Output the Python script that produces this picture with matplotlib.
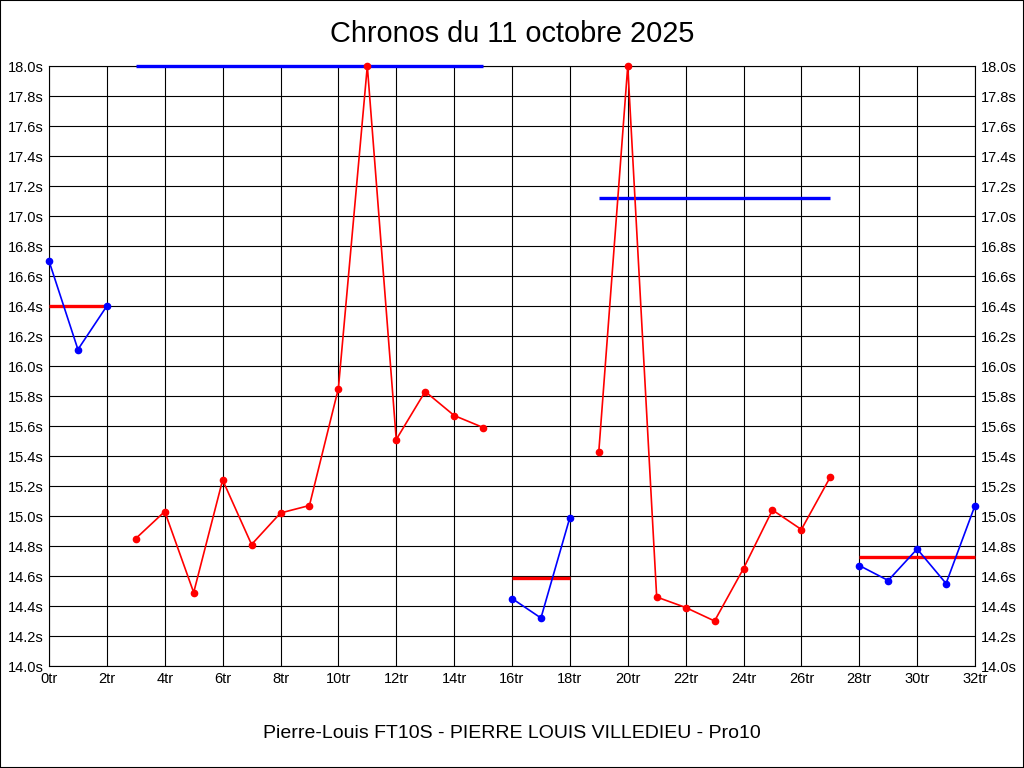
import matplotlib
matplotlib.use('Agg')
import matplotlib.pyplot as plt
from matplotlib.patches import Rectangle

plt.rcParams['font.family'] = ['Liberation Sans', 'DejaVu Sans']

# laps grouped by run, alternating colours
laps_a = [0, 1, 2]
times_a = [16.70, 16.11, 16.40]
laps_b = [3, 4, 5, 6, 7, 8, 9, 10, 11, 12, 13, 14, 15]
times_b = [14.85, 15.03, 14.49, 15.24, 14.81, 15.02, 15.07, 15.85, 18.0, 15.51, 15.83, 15.67, 15.59]
laps_c = [16, 17, 18]
times_c = [14.45, 14.32, 14.99]
laps_d = [19, 20, 21, 22, 23, 24, 25, 26, 27]
times_d = [15.43, 18.0, 14.46, 14.39, 14.30, 14.65, 15.04, 14.91, 15.26]
laps_e = [28, 29, 30, 31, 32]
times_e = [14.67, 14.57, 14.78, 14.55, 15.07]

# mean of each run (clipped at top of scale)
means = [16.40, 18.0, 14.59, 17.12, 14.73]

runs = [(laps_a, times_a, 'blue'), (laps_b, times_b, 'red'), (laps_c, times_c, 'blue'),
        (laps_d, times_d, 'red'), (laps_e, times_e, 'blue')]

fig = plt.figure(figsize=(10.24, 7.68), dpi=100)
ax = fig.add_axes([49 / 1024, 1 - 666 / 768, 926 / 1024, 600 / 768])

for (laps, times, col), m in zip(runs, means):
    ax.plot(laps, times, color=col, lw=1.2, marker='o', ms=4.5, clip_on=False, zorder=5)
    mean_col = 'red' if col == 'blue' else 'blue'
    ax.plot([laps[0], laps[-1]], [m, m], color=mean_col, lw=2.4, solid_capstyle='butt',
            clip_on=False, zorder=4)

ax.set_xlim(0, 32)
ax.set_ylim(14.0, 18.0)
xt = list(range(0, 33, 2))
yt = [14.0 + 0.2 * i for i in range(21)]
ax.set_xticks(xt)
ax.set_xticklabels([f'{v}tr' for v in xt])
ax.set_yticks(yt)
ax.set_yticklabels([f'{v:.1f}s' for v in yt])
ax.tick_params(axis='both', length=0, labelsize=10.5, pad=4)
ax.tick_params(axis='y', labelright=True, right=True)
ax.grid(True, color='black', lw=0.8)
ax.set_axisbelow(True)
for s in ax.spines.values():
    s.set_color('black')
    s.set_linewidth(0.8)

fig.text(0.5, 1 - 34 / 768, 'Chronos du 11 octobre 2025', ha='center', va='center', fontsize=20.8)
fig.text(0.5, 1 - 733 / 768, 'Pierre-Louis FT10S - PIERRE LOUIS VILLEDIEU - Pro10',
         ha='center', va='center', fontsize=14)

fig.patches.append(Rectangle((0, 0), 1, 1, transform=fig.transFigure, fill=False,
                             edgecolor='black', lw=1.5))

fig.savefig('out.png', dpi=100)
